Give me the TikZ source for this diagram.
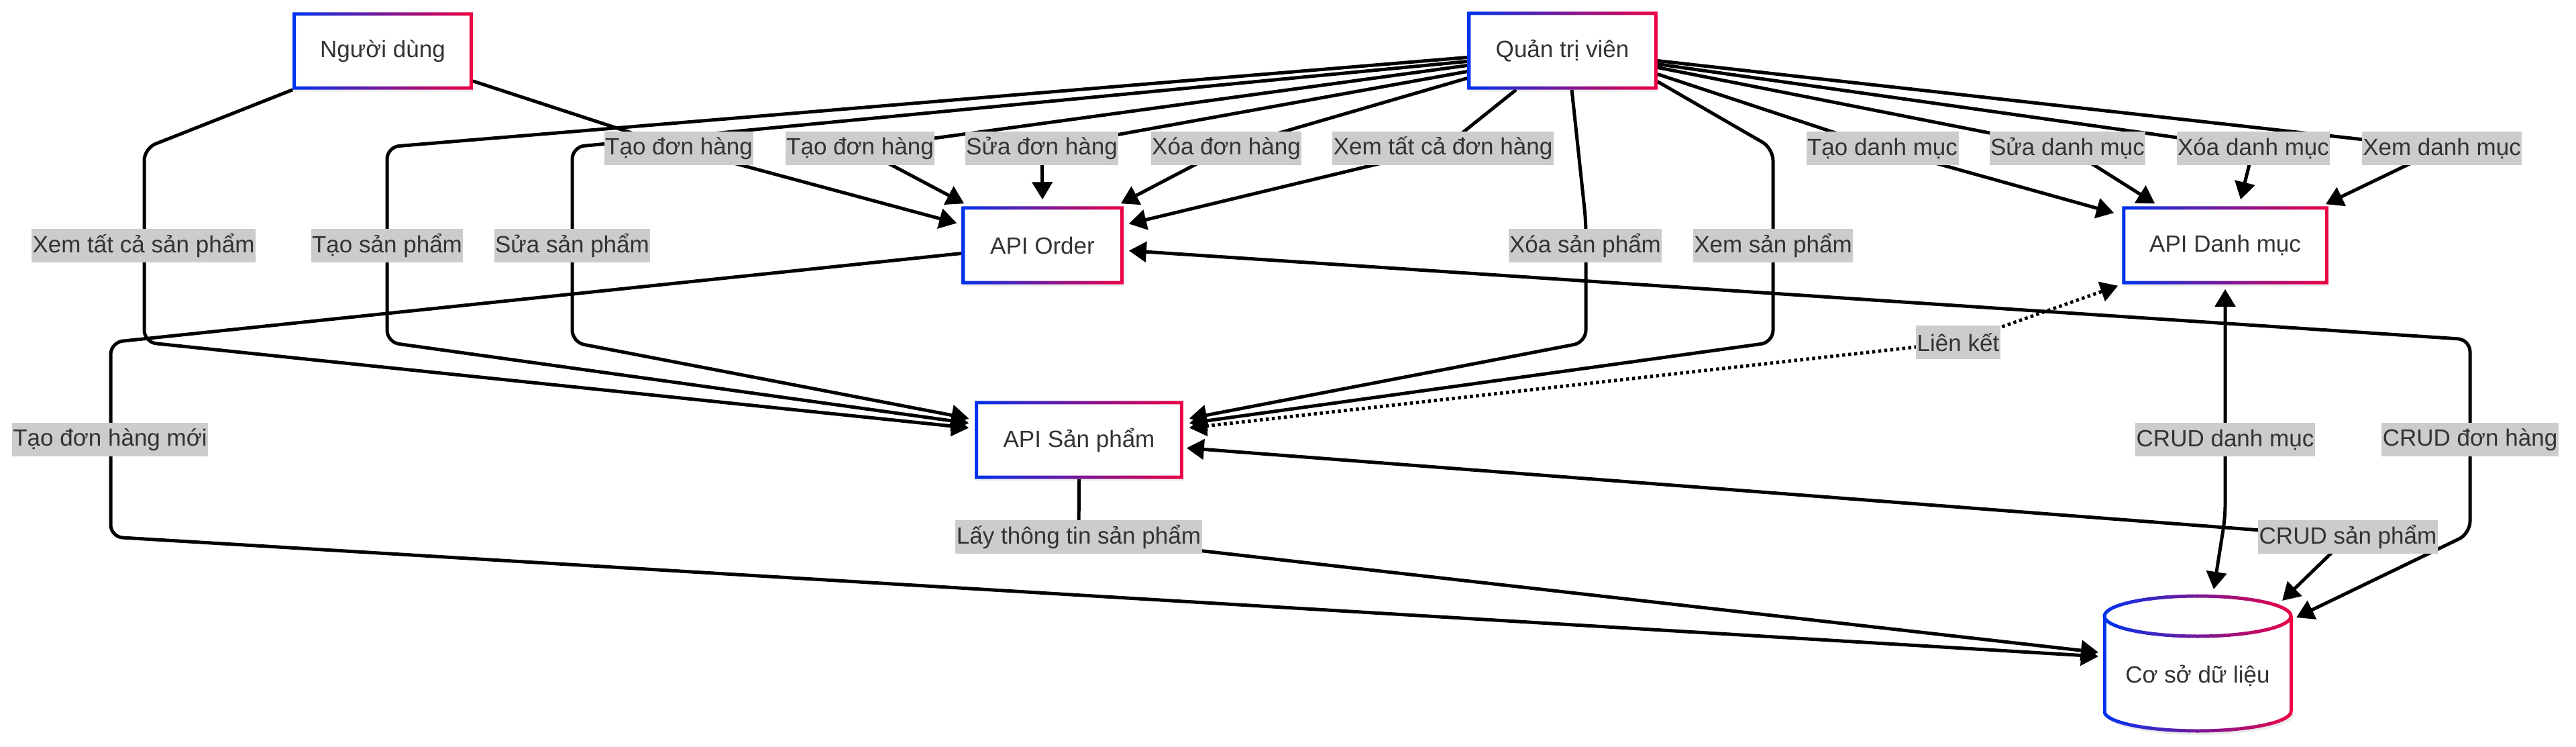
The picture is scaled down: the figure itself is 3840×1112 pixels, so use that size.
\documentclass[tikz,border=0pt]{standalone}
\usepackage{fontspec}
\setmainfont{Liberation Sans}
\usetikzlibrary{arrows.meta,calc,shadows}
\definecolor{gblue}{RGB}{0,51,238}
\definecolor{gred}{RGB}{238,0,68}
\definecolor{txt}{RGB}{51,51,51}
\definecolor{lgray}{RGB}{204,204,204}
\pgfdeclarelayer{edges}
\pgfsetlayers{edges,main}
\newcommand{\mygradborder}[1]{%
  \shade[left color=gblue,right color=gred,even odd rule]
    (#1.north west) rectangle (#1.south east)
    ($(#1.north west)+(5,5)$) rectangle ($(#1.south east)+(-5,-5)$);}
\begin{document}
\begin{tikzpicture}[x=0.01cm,y=-0.01cm,
  font=\fontsize{9.96pt}{12pt}\selectfont,
  >={Triangle[length=0.26cm,width=0.30cm]},
  box/.style={rectangle,inner sep=0pt,fill=white,text=txt,
    drop shadow={shadow xshift=0.01cm,shadow yshift=-0.04cm,opacity=0.12}},
  lbl/.style={fill=lgray,text=txt,inner xsep=0.015cm,inner ysep=0pt,minimum height=0.5cm},
  edge/.style={draw=black,line width=0.05cm,rounded corners=0.18cm},
  dotedge/.style={edge,dash pattern=on 0.045cm off 0.045cm}]
\useasboundingbox (0,0) rectangle (3840,1112);

% ---------- main nodes ----------
\node[box,minimum width=2.67cm,minimum height=1.14cm] (nd) at (570.5,76) {Người dùng};
\node[box,minimum width=2.82cm,minimum height=1.15cm] (qtv) at (2329,75.5) {Quản trị viên};
\node[box,minimum width=2.40cm,minimum height=1.15cm] (order) at (1554,365.5) {API Order};
\node[box,minimum width=3.06cm,minimum height=1.15cm] (dm) at (3317,365.5) {API Danh mục};
\node[box,minimum width=3.09cm,minimum height=1.15cm] (sp) at (1608.5,655.5) {API Sản phẩm};
\mygradborder{nd}
\mygradborder{qtv}
\mygradborder{order}
\mygradborder{dm}
\mygradborder{sp}

% ---------- database cylinder ----------
\fill[black,opacity=0.08] (3140,924) rectangle (3418,1066);
\fill[black,opacity=0.08] (3279,1066) ellipse[x radius=139,y radius=29];
\fill[white] (3137,918) rectangle (3415,1060);
\fill[white] (3276,918) ellipse[x radius=139,y radius=30];
\fill[white] (3276,1060) ellipse[x radius=139,y radius=29];
\foreach \a in {0,5,...,355}{
  \pgfmathtruncatemacro\p{50*(1+cos(\a+2.5))}
  \draw[line width=0.05cm,line cap=round,color=gred!\p!gblue]
    ({3276+139*cos(\a)},{918+30*sin(\a)}) -- ({3276+139*cos(\a+5)},{918+30*sin(\a+5)});
}
\foreach \a in {0,5,...,175}{
  \pgfmathtruncatemacro\p{50*(1+cos(\a+2.5))}
  \draw[line width=0.05cm,line cap=round,color=gred!\p!gblue]
    ({3276+139*cos(\a)},{1060+29*sin(\a)}) -- ({3276+139*cos(\a+5)},{1060+29*sin(\a+5)});
}
\draw[line width=0.05cm,gblue] (3137,918) -- (3137,1060);
\draw[line width=0.05cm,gred] (3415,918) -- (3415,1060);
\node[text=txt,inner sep=0pt] (db) at (3276,1007) {Cơ sở dữ liệu};

% ---------- edge labels ----------
\node[lbl] (l1) at (1012,221) {Tạo đơn hàng};
\node[lbl] (l2) at (1282,221) {Tạo đơn hàng};
\node[lbl] (l3) at (1553,221) {Sửa đơn hàng};
\node[lbl] (l4) at (1828,221) {Xóa đơn hàng};
\node[lbl] (l5) at (2151,221) {Xem tất cả đơn hàng};
\node[lbl] (l6) at (2806,221) {Tạo danh mục};
\node[lbl] (l7) at (3082,221) {Sửa danh mục};
\node[lbl] (l8) at (3359,221) {Xóa danh mục};
\node[lbl] (l9) at (3640,221) {Xem danh mục};
\node[lbl] (l10) at (214,366) {Xem tất cả sản phẩm};
\node[lbl] (l11) at (577,366) {Tạo sản phẩm};
\node[lbl] (l12) at (853,366) {Sửa sản phẩm};
\node[lbl] (l13) at (2363,366) {Xóa sản phẩm};
\node[lbl] (l14) at (2643,366) {Xem sản phẩm};
\node[lbl] (l15) at (164,655) {Tạo đơn hàng mới};
\node[lbl] (l16) at (3317,655) {CRUD danh mục};
\node[lbl] (l17) at (3682,655) {CRUD đơn hàng};
\node[lbl] (l18) at (1608,800) {Lấy thông tin sản phẩm};
\node[lbl] (l19) at (3500,800) {CRUD sản phẩm};
\node[lbl] (l20) at (2919,510) {Liên kết};

% ---------- connectors ----------
\begin{pgfonlayer}{edges}
\fill[white] (0,0) rectangle (3840,1112);
% Người dùng
\draw[edge,->] (nd.south west) -- (215,221) -- (215,510) -- ($(sp.west)+(-9,-18)$);
\draw[edge,->] ($(nd.south east)+(0,-13)$) -- (l1.center) -- ($(order.west)+(-7,-33)$);
% Quản trị viên, left side
\draw[edge,->] ($(qtv.west)+(0,10)$) -- (577,219) -- (577,510) -- ($(sp.west)+(-9,-25)$);
\draw[edge,->] ($(qtv.west)+(0,16)$) -- (853,219) -- (853,510) -- ($(sp.west)+(-9,-32)$);
\draw[edge,->] ($(qtv.west)+(0,22)$) -- (l2.center) -- ($(order.north west)+(4,-4)$);
\draw[edge,->] ($(qtv.west)+(0,31)$) -- (l3.center) -- ($(order.north)+(0,-10)$);
\draw[edge,->] ($(qtv.west)+(0,41)$) -- (l4.center) -- ($(order.north east)+(-4,-4)$);
% Quản trị viên, bottom
\draw[edge,->] ($(qtv.south)+(-69,0)$) -- (l5.center) -- ($(order.east)+(8,-32)$);
\draw[edge,->] ($(qtv.south)+(14,0)$) -- (2364,330) -- (2364,510) -- ($(sp.east)+(9,-32)$);
% Quản trị viên, right side
\draw[edge,->] ($(qtv.east)+(0,46)$) -- (2643,221) -- (2643,510) -- ($(sp.east)+(9,-25)$);
\draw[edge,->] ($(qtv.east)+(0,35)$) -- (l6.center) -- ($(dm.north west)+(-12,10)$);
\draw[edge,->] ($(qtv.east)+(0,25)$) -- (l7.center) -- ($(dm.north west)+(49,-4)$);
\draw[edge,->] ($(qtv.east)+(0,20)$) -- (l8.center) -- ($(dm.north)+(23,-10)$);
\draw[edge,->] ($(qtv.east)+(0,15)$) -- (l9.center) -- ($(dm.north east)+(-4,-3)$);
% API Order
\draw[edge,->] ($(order.west)+(0,12)$) -- (165,510) -- (165,800) -- ($(db.center)+(-148,-29)$);
\draw[edge,<->] ($(order.east)+(8,8)$) -- (3682,506) -- (3682,795) -- ($(db.center)+(147,-87)$);
% API Sản phẩm
\draw[edge,->] (sp.south) -- (l18.center) -- ($(db.center)+(-148,-35)$);
\draw[edge,<->] ($(sp.east)+(5,12)$) -- (l19.center) -- ($(db.center)+(126,-112)$);
\draw[dotedge,<->] ($(sp.east)+(9,-18)$) -- (l20.center) -- ($(dm.south west)+(-6,2)$);
% API Danh mục
\draw[edge,<->] ($(dm.south)+(0,7)$) -- (3317,770) -- ($(db.center)+(24,-129)$);
\end{pgfonlayer}
\end{tikzpicture}
\end{document}
